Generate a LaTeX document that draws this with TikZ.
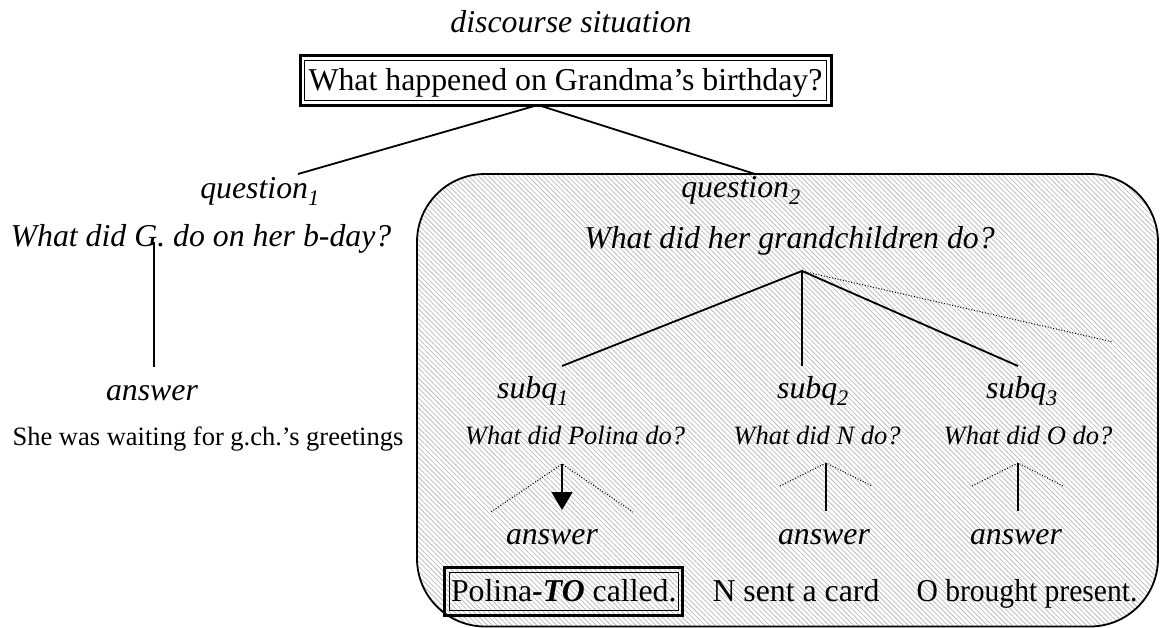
\documentclass[tikz,border=0pt]{standalone}
\usepackage{fontspec}
\usepackage{graphicx}
\setmainfont{Liberation Serif}
\usetikzlibrary{arrows.meta,patterns.meta,calc}
\newcommand\bigf{\fontsize{31.8}{38}\selectfont}
\newcommand\smallf{\fontsize{26.5}{32}\selectfont}
\begin{document}
\begin{tikzpicture}[x=1pt,y=-1pt,
  big/.style={font=\bigf, inner sep=0pt, anchor=base},
  bigit/.style={font=\bigf\itshape, inner sep=0pt, anchor=base},
  smallrm/.style={font=\smallf, inner sep=0pt, anchor=base},
  smallit/.style={font=\smallf\itshape, inner sep=0pt, anchor=base},
  conn/.style={line width=1.8pt},
  dots/.style={line width=1pt, dash pattern=on 1pt off 1.8pt},
  framebox/.style={draw, line width=1.4pt, inner sep=0pt, outer sep=0pt, font=\bigf},
  outerframe/.style={line width=3pt},
  ]
\useasboundingbox (0,0) rectangle (1160,628);
% hatched panel
\node (panel) [draw, line width=1.8pt, rounded corners=68pt, inner sep=0pt,
  minimum width=741pt, minimum height=452.5pt,
  pattern={Lines[angle=-45,distance=3.5pt,line width=0.8pt]}, pattern color=black!26]
  at (787.5,400.25) {};
% title
\node[bigit] (disc) at (571,33) {discourse situation};
\node (top) [framebox, minimum width=522pt, minimum height=39.5pt, text height=25pt, text depth=4pt]
  at (565.5,80.5) {What happened on Grandma’s birthday?};
\draw[outerframe] ($(top.north west)+(-4.5,-4.8)$) rectangle ($(top.south east)+(4.5,5)$);
% first level connectors
\coordinate (topjoin) at (538,105);
\coordinate (q1end) at (298,174);
\coordinate (q2end) at (755,174);
\draw[conn] (q1end) -- (topjoin) -- (q2end);
% question 1
\node[bigit] (q1) at (260,199) {question\textsubscript{1}};
\node[bigit] (q1q) at (201,247) {What did G. do on her b-day?};
\coordinate (q1down) at (154,242);
\coordinate (a0up) at (154,367);
\draw[conn] (q1down) -- (a0up);
\node[bigit] (a0) at (152,400) {answer};
\node[smallrm] (a0t) at (208,445) {She was waiting for g.ch.’s greetings};
% question 2
\node[bigit] (q2) at (741,198) {question\textsubscript{2}};
\node[bigit] (q2q) at (789.5,249) {What did her grandchildren do?};
\coordinate (apex) at (802,271);
\coordinate (s1top) at (562,366);
\coordinate (s2top) at (802,366);
\coordinate (s3top) at (1018,366);
\coordinate (dotend) at (1113,342);
\draw[conn] (s1top) -- (apex) -- (s2top);
\draw[conn] (apex) -- (s3top);
\draw[dots] (apex) -- (dotend);
% subquestions
\node[bigit] (s1) at (533,399) {subq\textsubscript{1}};
\node[bigit] (s2) at (813,399) {subq\textsubscript{2}};
\node[bigit] (s3) at (1022,399) {subq\textsubscript{3}};
\node[smallit] (sq1) at (575,444) {What did Polina do?};
\node[smallit] (sq2) at (817,444) {What did N do?};
\node[smallit] (sq3) at (1028,444) {What did O do?};
% small triangles
\coordinate (t1) at (562,464); \coordinate (t1l) at (491,512); \coordinate (t1r) at (633,512);
\coordinate (t1tip) at (562,510);
\draw[dots] (t1l) -- (t1) -- (t1r);
\draw[conn, -{Triangle[width=21pt,length=18pt]}] (t1) -- (t1tip);
\coordinate (t2) at (826,463); \coordinate (t2l) at (780,486); \coordinate (t2r) at (872,486);
\coordinate (t2b) at (826,511);
\draw[dots] (t2l) -- (t2) -- (t2r);
\draw[conn] (t2) -- (t2b);
\coordinate (t3) at (1018,463); \coordinate (t3l) at (972,486); \coordinate (t3r) at (1063,486);
\coordinate (t3b) at (1018,511);
\draw[dots] (t3l) -- (t3) -- (t3r);
\draw[conn] (t3) -- (t3b);
% answers
\node[bigit] (a1) at (552,544) {answer};
\node[bigit] (a2) at (824,544) {answer};
\node[bigit] (a3) at (1016,544) {answer};
\node (r1) [framebox, minimum width=229pt, minimum height=38.4pt, text height=24pt, text depth=5pt]
  at (563.8,591.5) {Polina\textbf{\textit{-TO}} called.};
\draw[outerframe] ($(r1.north west)+(-4.5,-4.5)$) rectangle ($(r1.south east)+(4.5,4.8)$);
\node[big] (r2) at (796,601) {N sent a card};
\node[big] (r3) at (1027,601) {\scalebox{0.93}[1]{O brought present.}};
\end{tikzpicture}
\end{document}
